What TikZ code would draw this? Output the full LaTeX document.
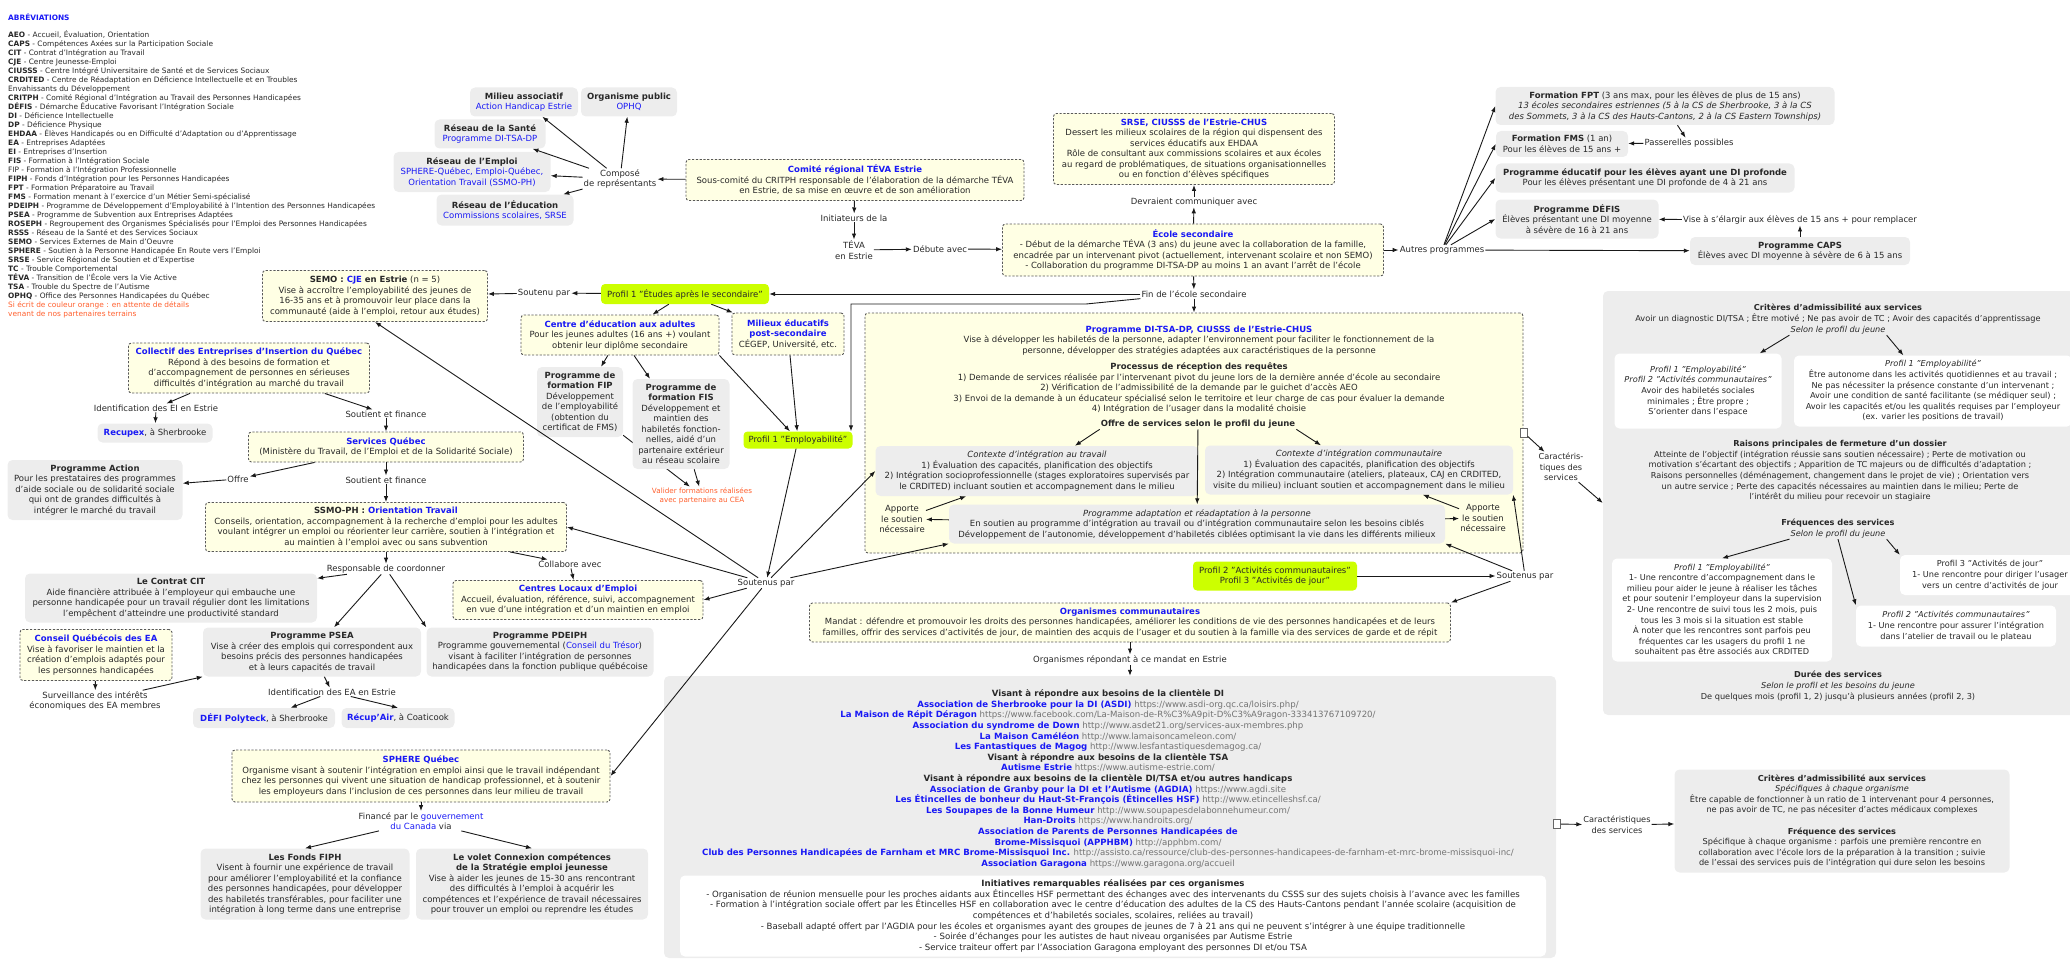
\documentclass[tikz,border=0pt]{standalone}
\usepackage{fontspec}
\setmainfont{DejaVu Sans}
\usepackage{tikz}
\usetikzlibrary{arrows.meta}

\definecolor{bleulien}{RGB}{25,25,245}
\definecolor{fondjaune}{RGB}{255,255,228}
\definecolor{fondgris}{RGB}{237,237,237}
\definecolor{vertprofil}{RGB}{204,255,0}
\definecolor{orangeattente}{RGB}{255,95,45}
\definecolor{grisurl}{RGB}{115,115,115}
\definecolor{texte}{RGB}{40,40,40}

\newcommand{\titrebleu}[1]{\textbf{\textcolor{bleulien}{#1}}}
\newcommand{\orgurl}[2]{\titrebleu{#1} \textcolor{grisurl}{#2}}

\begin{document}
\begin{tikzpicture}[
    x=1pt, y=-1pt,
    >={Latex[length=6pt, width=4.5pt]},
    every node/.style={text=texte},
    txt/.style={font=\fontsize{8.5}{10.5}\selectfont, align=center, inner sep=1pt},
    petit/.style={font=\fontsize{8.2}{10.6}\selectfont},
    listefont/.style={font=\fontsize{8.6}{10.6}\selectfont},
    concept/.style={txt, fill=fondjaune, draw=black!65, line width=0.9pt, dash pattern=on 2.2pt off 1.6pt, rounded corners=3pt},
    gris/.style={txt, fill=fondgris, rounded corners=5pt},
    blanc/.style={txt, fill=white, rounded corners=5pt},
    profil/.style={txt, fill=vertprofil, rounded corners=4pt},
    lien/.style={txt},
    fleche/.style={->, line width=0.9pt, draw=black!90},
    abrev/.style={font=\fontsize{7.4}{9}\selectfont, align=left, inner sep=0pt},
    icone/.style={draw=black!60, fill=white, line width=0.5pt, minimum width=7pt, minimum height=9pt, inner sep=0pt}
  ]

  \useasboundingbox (0,0) rectangle (2070,963);

  % Abreviations
  \node[abrev, anchor=west, font=\fontsize{7.4}{9}\selectfont\bfseries, text=bleulien] (abrev-titre) at (8,17) {ABRÉVIATIONS};
  \node[abrev, anchor=north west] (abrev-liste) at (8,30.5) {%
    \textbf{AEO} - Accueil, Évaluation, Orientation\\
    \textbf{CAPS} - Compétences Axées sur la Participation Sociale\\
    \textbf{CIT} - Contrat d'Intégration au Travail\\
    \textbf{CJE} - Centre Jeunesse-Emploi\\
    \textbf{CIUSSS} - Centre Intégré Universitaire de Santé et de Services Sociaux\\
    \textbf{CRDITED} - Centre de Réadaptation en Déficience Intellectuelle et en Troubles\\
    Envahissants du Développement\\
    \textbf{CRITPH} - Comité Régional d'Intégration au Travail des Personnes Handicapées\\
    \textbf{DÉFIS} - Démarche Éducative Favorisant l'Intégration Sociale\\
    \textbf{DI} - Déficience Intellectuelle\\
    \textbf{DP} - Déficience Physique\\
    \textbf{EHDAA} - Élèves Handicapés ou en Difficulté d'Adaptation ou d'Apprentissage\\
    \textbf{EA} - Entreprises Adaptées\\
    \textbf{EI} - Entreprises d'Insertion\\
    \textbf{FIS} - Formation à l'Intégration Sociale\\
    FIP - Formation à l'Intégration Professionnelle\\
    \textbf{FIPH} - Fonds d'Intégration pour les Personnes Handicapées\\
    \textbf{FPT} - Formation Préparatoire au Travail\\
    \textbf{FMS} - Formation menant à l'exercice d'un Métier Semi-spécialisé\\
    \textbf{PDEIPH} - Programme de Développement d'Employabilité à l'Intention des Personnes Handicapées\\
    \textbf{PSEA} - Programme de Subvention aux Entreprises Adaptées\\
    \textbf{ROSEPH} - Regroupement des Organismes Spécialisés pour l'Emploi des Personnes Handicapées\\
    \textbf{RSSS} - Réseau de la Santé et des Services Sociaux\\
    \textbf{SEMO} - Services Externes de Main d'Oeuvre\\
    \textbf{SPHERE} - Soutien à la Personne Handicapée En Route vers l'Emploi\\
    \textbf{SRSE} - Service Régional de Soutien et d'Expertise\\
    \textbf{TC} - Trouble Comportemental\\
    \textbf{TÉVA} - Transition de l'École vers la Vie Active\\
    \textbf{TSA} - Trouble du Spectre de l'Autisme\\
    \textbf{OPHQ} - Office des Personnes Handicapées du Québec\\
    \textcolor{orangeattente}{Si écrit de couleur orange : en attente de détails}\\
    \textcolor{orangeattente}{venant de nos partenaires terrains}};

  % Comite regional et representants
  \node[gris, minimum width=108pt, minimum height=29pt] (milieu) at (524,102) {\textbf{Milieu associatif}\\\textcolor{bleulien}{Action Handicap Estrie}};
  \node[gris, minimum width=96pt, minimum height=29pt] (public) at (629,102) {\textbf{Organisme public}\\\textcolor{bleulien}{OPHQ}};
  \node[gris, minimum width=111pt, minimum height=29pt] (sante) at (490,134) {\textbf{Réseau de la Santé}\\\textcolor{bleulien}{Programme DI-TSA-DP}};
  \node[gris, minimum width=157pt, minimum height=40pt] (emploi) at (472,172) {\textbf{Réseau de l'Emploi}\\\textcolor{bleulien}{SPHERE-Québec, Emploi-Québec,}\\\textcolor{bleulien}{Orientation Travail (SSMO-PH)}};
  \node[gris, minimum width=137pt, minimum height=31pt] (education) at (505,210) {\textbf{Réseau de l'Éducation}\\\textcolor{bleulien}{Commissions scolaires, SRSE}};
  \node[lien] (compose) at (620,179) {Composé\\de représentants};
  \node[concept, minimum width=338pt, minimum height=41pt] (comite) at (855,180) {\titrebleu{Comité régional TÉVA Estrie}\\Sous-comité du CRITPH responsable de l'élaboration de la démarche TÉVA\\en Estrie, de sa mise en œuvre et de son amélioration};
  \node[lien] (initiateurs) at (854,218) {Initiateurs de la};
  \node[lien] (teva) at (854,250) {TÉVA\\en Estrie};
  \node[lien] (debute) at (940,249) {Débute avec};

  % Ecole secondaire
  \node[concept, minimum width=381pt, minimum height=52pt] (ecole) at (1193,250) {\titrebleu{École secondaire}\\- Début de la démarche TÉVA (3 ans) du jeune avec la collaboration de la famille,\\encadrée par un intervenant pivot (actuellement, intervenant scolaire et non SEMO)\\- Collaboration du programme DI-TSA-DP au moins 1 an avant l'arrêt de l'école};
  \node[lien] (devraient) at (1194,202) {Devraient communiquer avec};
  \node[concept, minimum width=281pt, minimum height=71pt] (srse) at (1194,149) {\titrebleu{SRSE, CIUSSS de l'Estrie-CHUS}\\Dessert les milieux scolaires de la région qui dispensent des\\services éducatifs aux EHDAA\\Rôle de consultant aux commissions scolaires et aux écoles\\au regard de problématiques, de situations organisationnelles\\ou en fonction d'élèves spécifiques};
  \node[lien] (autres) at (1442,250) {Autres programmes};
  \node[lien] (fin) at (1194,294) {Fin de l'école secondaire};

  % Autres programmes
  \node[gris, minimum width=339pt, minimum height=38pt] (fpt) at (1665,106) {\textbf{Formation FPT} (3 ans max, pour les élèves de plus de 15 ans)\\\textit{13 écoles secondaires estriennes (5 à la CS de Sherbrooke, 3 à la CS}\\\textit{des Sommets, 3 à la CS des Hauts-Cantons, 2 à la CS Eastern Townships)}};
  \node[gris, minimum width=132pt, minimum height=26pt] (fms) at (1562,144) {\textbf{Formation FMS} (1 an)\\Pour les élèves de 15 ans +};
  \node[lien] (passerelles) at (1689,143) {Passerelles possibles};
  \node[gris, minimum width=299pt, minimum height=29pt] (educatif) at (1645,178) {\textbf{Programme éducatif pour les élèves ayant une DI profonde}\\Pour les élèves présentant une DI profonde de 4 à 21 ans};
  \node[gris, minimum width=163pt, minimum height=39pt] (defis) at (1577,219) {\textbf{Programme DÉFIS}\\Élèves présentant une DI moyenne\\à sévère de 16 à 21 ans};
  \node[lien] (vise) at (1800,220) {Vise à s'élargir aux élèves de 15 ans + pour remplacer};
  \node[gris, minimum width=220pt, minimum height=28pt] (caps) at (1800,251) {\textbf{Programme CAPS}\\Élèves avec DI moyenne à sévère de 6 à 15 ans};

  % Caracteristiques des services DI-TSA-DP
  \node[gris, minimum width=478pt, minimum height=424pt] (criteres) at (1842,503) {};
  \node[txt, petit] (crit-titre) at (1838,313.5) {\textbf{Critères d'admissibilité aux services}\\Avoir un diagnostic DI/TSA ; Être motivé ; Ne pas avoir de TC ; Avoir des capacités d'apprentissage};
  \node[txt, petit] (selon-1) at (1838,330) {\textit{Selon le profil du jeune}};
  \node[blanc, petit, minimum width=167pt, minimum height=75pt] (profil-a) at (1698,391) {\textit{Profil 1 "Employabilité"}\\\textit{Profil 2 "Activités communautaires"}\\Avoir des habiletés sociales\\minimales ; Être propre ;\\S'orienter dans l'espace};
  \node[blanc, petit, minimum width=278pt, minimum height=71pt] (profil-b) at (1933,391) {\textit{Profil 1 "Employabilité"}\\Être autonome dans les activités quotidiennes et au travail ;\\Ne pas nécessiter la présence constante d'un intervenant ;\\Avoir une condition de santé facilitante (se médiquer seul) ;\\Avoir les capacités et/ou les qualités requises par l'employeur\\(ex. varier les positions de travail)};
  \node[txt, petit] (raisons) at (1840,471) {\textbf{Raisons principales de fermeture d'un dossier}\\Atteinte de l'objectif (intégration réussie sans soutien nécessaire) ; Perte de motivation ou\\motivation s'écartant des objectifs ; Apparition de TC majeurs ou de difficultés d'adaptation ;\\Raisons personnelles (déménagement, changement dans le projet de vie) ; Orientation vers\\un autre service ; Perte des capacités nécessaires au maintien dans le milieu; Perte de\\l'intérêt du milieu pour recevoir un stagiaire};
  \node[txt, petit] (frequences) at (1838,523) {\textbf{Fréquences des services}};
  \node[txt, petit] (selon-2) at (1838,534) {\textit{Selon le profil du jeune}};
  \node[blanc, petit, minimum width=220pt, minimum height=103pt] (freq-1) at (1722,610) {\textit{Profil 1 "Employabilité"}\\1- Une rencontre d'accompagnement dans le\\milieu pour aider le jeune à réaliser les tâches\\et pour soutenir l'employeur dans la supervision\\2- Une rencontre de suivi tous les 2 mois, puis\\tous les 3 mois si la situation est stable\\À noter que les rencontres sont parfois peu\\fréquentes car les usagers du profil 1 ne\\souhaitent pas être associés aux CRDITED};
  \node[blanc, petit, minimum width=180pt, minimum height=40pt] (freq-3) at (1990,575) {Profil 3 "Activités de jour"\\1- Une rencontre pour diriger l'usager\\vers un centre d'activités de jour};
  \node[blanc, petit, minimum width=200pt, minimum height=41pt] (freq-2) at (1956,626) {\textit{Profil 2 "Activités communautaires"}\\1- Une rencontre pour assurer l'intégration\\dans l'atelier de travail ou le plateau};
  \node[txt, petit] (duree) at (1838,686) {\textbf{Durée des services}\\\textit{Selon le profil et les besoins du jeune}\\De quelques mois (profil 1, 2) jusqu'à plusieurs années (profil 2, 3)};
  \node[lien, petit] (caract-dit) at (1561,467) {Caractéris-\\tiques des\\services};

  % Programme DI-TSA-DP
  \node[concept, minimum width=658pt, minimum height=240pt] (dittsadp) at (1194,433) {};
  \node[icone] (icone-dit) at (1524,433) {};
  \node[txt] (dit-texte) at (1199,340.5) {\titrebleu{Programme DI-TSA-DP, CIUSSS de l'Estrie-CHUS}\\Vise à développer les habiletés de la personne, adapter l'environnement pour faciliter le fonctionnement de la\\personne, développer des stratégies adaptées aux caractéristiques de la personne};
  \node[txt] (processus) at (1199,388) {\textbf{Processus de réception des requêtes}\\1) Demande de services réalisée par l'intervenant pivot du jeune lors de la dernière année d'école au secondaire\\2) Vérification de l'admissibilité de la demande par le guichet d'accès AEO\\3) Envoi de la demande à un éducateur spécialisé selon le territoire et leur charge de cas pour évaluer la demande\\4) Intégration de l'usager dans la modalité choisie};
  \node[txt] (offre) at (1198,424) {\textbf{Offre de services selon le profil du jeune}};
  \node[gris, minimum width=323pt, minimum height=50pt] (travail) at (1037,471) {\textit{Contexte d'intégration au travail}\\1) Évaluation des capacités, planification des objectifs\\2) Intégration socioprofessionnelle (stages exploratoires supervisés par\\le CRDITED) incluant soutien et accompagnement dans le milieu};
  \node[gris, minimum width=308pt, minimum height=49pt] (communautaire) at (1359,470) {\textit{Contexte d'intégration communautaire}\\1) Évaluation des capacités, planification des objectifs\\2) Intégration communautaire (ateliers, plateaux, CAJ en CRDITED,\\visite du milieu) incluant soutien et accompagnement dans le milieu};
  \node[gris, minimum width=496pt, minimum height=39pt] (adaptation) at (1197,524) {\textit{Programme adaptation et réadaptation à la personne}\\En soutien au programme d'intégration au travail ou d'intégration communautaire selon les besoins ciblés\\Développement de l'autonomie, développement d'habiletés ciblées optimisant la vie dans les différents milieux};
  \node[lien] (apporte-1) at (902,519) {Apporte\\le soutien\\nécessaire};
  \node[lien] (apporte-2) at (1483,518) {Apporte\\le soutien\\nécessaire};

  % Profils et milieux educatifs
  \node[profil, minimum width=168pt, minimum height=20pt] (etudes) at (685,294) {Profil 1 "Études après le secondaire"};
  \node[lien] (soutenu) at (544,293) {Soutenu par};
  \node[concept, minimum width=225pt, minimum height=51pt] (semo) at (375,296) {\textbf{SEMO : \textcolor{bleulien}{CJE} en Estrie} (n = 5)\\Vise à accroître l'employabilité des jeunes de\\16-35 ans et à promouvoir leur place dans la\\communauté (aide à l'emploi, retour aux études)};
  \node[concept, minimum width=198pt, minimum height=40pt] (centre) at (620,335) {\titrebleu{Centre d'éducation aux adultes}\\Pour les jeunes adultes (16 ans +) voulant\\obtenir leur diplôme secondaire};
  \node[concept, minimum width=112pt, minimum height=42pt] (milieux) at (788,334) {\titrebleu{Milieux éducatifs}\\\titrebleu{post-secondaire}\\CÉGEP, Université, etc.};
  \node[gris, minimum width=86pt, minimum height=70pt] (fip) at (580,402) {\textbf{Programme de}\\\textbf{formation FIP}\\Développement\\de l'employabilité\\(obtention du\\certificat de FMS)};
  \node[txt, font=\fontsize{7.2}{9}\selectfont, text=orangeattente] (valider) at (702,496) {Valider formations réalisées\\avec partenaire au CEA};
  \draw[fleche] (fip) -- (valider);
  \node[gris, minimum width=97pt, minimum height=90pt] (fis) at (681,424) {\textbf{Programme de}\\\textbf{formation FIS}\\Développement et\\maintien des\\habiletés fonction-\\nelles, aidé d'un\\partenaire extérieur\\au réseau scolaire};
  \node[profil, minimum width=109pt, minimum height=17pt] (employ) at (798,440) {Profil 1 "Employabilité"};
  \node[lien] (soutenus) at (766,583) {Soutenus par};
  \node[profil, minimum width=164pt, minimum height=29pt] (profil23) at (1275,576) {Profil 2 "Activités communautaires"\\Profil 3 "Activités de jour"};
  \node[lien] (soutenus-2) at (1525,576) {Soutenus par};

  % Organismes communautaires
  \node[concept, minimum width=641pt, minimum height=39pt] (organismes) at (1130,622.5) {\titrebleu{Organismes communautaires}\\Mandat : défendre et promouvoir les droits des personnes handicapées, améliorer les conditions de vie des personnes handicapées et de leurs\\familles, offrir des services d'activités de jour, de maintien des acquis de l'usager et du soutien à la famille via des services de garde et de répit};
  \node[lien] (repondant) at (1130,660) {Organismes répondant à ce mandat en Estrie};
  \node[gris, minimum width=892pt, minimum height=282pt] (liste) at (1110,817) {};
  \node[txt, listefont] (liste-texte) at (1108,779) {%
    \textbf{Visant à répondre aux besoins de la clientèle DI}\\
    \orgurl{Association de Sherbrooke pour la DI (ASDI)}{https://www.asdi-org.qc.ca/loisirs.php/}\\
    \orgurl{La Maison de Répit Déragon}{https://www.facebook.com/La-Maison-de-R\%C3\%A9pit-D\%C3\%A9ragon-333413767109720/}\\
    \orgurl{Association du syndrome de Down}{http://www.asdet21.org/services-aux-membres.php}\\
    \orgurl{La Maison Caméléon}{http://www.lamaisoncameleon.com/}\\
    \orgurl{Les Fantastiques de Magog}{http://www.lesfantastiquesdemagog.ca/}\\
    \textbf{Visant à répondre aux besoins de la clientèle TSA}\\
    \orgurl{Autisme Estrie}{https://www.autisme-estrie.com/}\\
    \textbf{Visant à répondre aux besoins de la clientèle DI/TSA et/ou autres handicaps}\\
    \orgurl{Association de Granby pour la DI et l'Autisme (AGDIA)}{https://www.agdi.site}\\
    \orgurl{Les Étincelles de bonheur du Haut-St-François (Étincelles HSF)}{http://www.etincelleshsf.ca/}\\
    \orgurl{Les Soupapes de la Bonne Humeur}{http://www.soupapesdelabonnehumeur.com/}\\
    \orgurl{Han-Droits}{https://www.handroits.org/}\\
    \titrebleu{Association de Parents de Personnes Handicapées de}\\
    \orgurl{Brome-Missisquoi (APPHBM)}{http://apphbm.com/}\\
    \orgurl{Club des Personnes Handicapées de Farnham et MRC Brome-Missisquoi Inc.}{http://assisto.ca/ressource/club-des-personnes-handicapees-de-farnham-et-mrc-brome-missisquoi-inc/}\\
    \orgurl{Association Garagona}{https://www.garagona.org/accueil}};
  \node[blanc, listefont, minimum width=866pt, minimum height=81pt] (initiatives) at (1113,916) {%
    \textbf{Initiatives remarquables réalisées par ces organismes}\\
    - Organisation de réunion mensuelle pour les proches aidants aux Étincelles HSF permettant des échanges avec des intervenants du CSSS sur des sujets choisis à l'avance avec les familles\\
    - Formation à l'intégration sociale offert par les Étincelles HSF en collaboration avec le centre d'éducation des adultes de la CS des Hauts-Cantons pendant l'année scolaire (acquisition de\\
    compétences et d'habiletés sociales, scolaires, reliées au travail)\\
    - Baseball adapté offert par l'AGDIA pour les écoles et organismes ayant des groupes de jeunes de 7 à 21 ans qui ne peuvent s'intégrer à une équipe traditionnelle\\
    - Soirée d'échanges pour les autistes de haut niveau organisées par Autisme Estrie\\
    - Service traiteur offert par l'Association Garagona employant des personnes DI et/ou TSA};
  \node[icone] (icone-liste) at (1557,824) {};
  \node[lien, petit] (caract-liste) at (1617,825) {Caractéristiques\\des services};
  \node[gris, petit, minimum width=335pt, minimum height=103pt] (criteres-org) at (1842,821) {\textbf{Critères d'admissibilité aux services}\\\textit{Spécifiques à chaque organisme}\\Être capable de fonctionner à un ratio de 1 intervenant pour 4 personnes,\\ne pas avoir de TC, ne pas nécesiter d'actes médicaux complexes\\[10.6pt]\textbf{Fréquence des services}\\Spécifique à chaque organisme : parfois une première rencontre en\\collaboration avec l'école lors de la préparation à la transition ; suivie\\de l'essai des services puis de l'intégration qui dure selon les besoins};

  % Services d'emploi (gauche)
  \node[concept, minimum width=241pt, minimum height=50pt] (collectif) at (249,368) {\titrebleu{Collectif des Entreprises d'Insertion du Québec}\\Répond à des besoins de formation et\\d'accompagnement de personnes en sérieuses\\difficultés d'intégration au marché du travail};
  \node[lien] (ident-ei) at (156,408) {Identification des EI en Estrie};
  \node[gris, minimum width=115pt, minimum height=19pt] (recupex) at (155,433) {\titrebleu{Recupex}, à Sherbrooke};
  \node[lien] (soutient-1) at (386,414) {Soutient et finance};
  \node[concept, minimum width=275pt, minimum height=30pt] (services-qc) at (386,447) {\titrebleu{Services Québec}\\(Ministère du Travail, de l'Emploi et de la Solidarité Sociale)};
  \node[lien] (offre-action) at (238,479) {Offre};
  \node[gris, minimum width=175pt, minimum height=60pt] (action) at (95,490) {\textbf{Programme Action}\\Pour les prestataires des programmes\\d'aide sociale ou de solidarité sociale\\qui ont de grandes difficultés à\\intégrer le marché du travail};
  \node[lien] (soutient-2) at (386,480) {Soutient et finance};
  \node[concept, minimum width=361pt, minimum height=49pt] (ssmo) at (386,527) {\textbf{SSMO-PH : \textcolor{bleulien}{Orientation Travail}}\\Conseils, orientation, accompagnement à la recherche d'emploi pour les adultes\\voulant intégrer un emploi ou réorienter leur carrière, soutien à l'intégration et\\au maintien à l'emploi avec ou sans subvention};
  \node[lien] (collabore) at (570,564) {Collabore avec};
  \node[concept, minimum width=250pt, minimum height=39pt] (cle) at (578,600) {\titrebleu{Centres Locaux d'Emploi}\\Accueil, évaluation, référence, suivi, accompagnement\\en vue d'une intégration et d'un maintien en emploi};
  \node[lien] (responsable) at (386,569) {Responsable de coordonner};
  \node[gris, minimum width=292pt, minimum height=49pt] (cit) at (171,598) {\textbf{Le Contrat CIT}\\Aide financière attribuée à l'employeur qui embauche une\\personne handicapée pour un travail régulier dont les limitations\\l'empêchent d'atteindre une productivité standard};
  \node[concept, minimum width=152pt, minimum height=51pt] (conseil) at (96,655) {\titrebleu{Conseil Québécois des EA}\\Vise à favoriser le maintien et la\\création d'emplois adaptés pour\\les personnes handicapées};
  \node[lien] (surveillance) at (95,701) {Surveillance des intérêts\\économiques des EA membres};
  \node[gris, minimum width=218pt, minimum height=49pt] (psea) at (312,652) {\textbf{Programme PSEA}\\Vise à créer des emplois qui correspondent aux\\besoins précis des personnes handicapées\\et à leurs capacités de travail};
  \node[gris, minimum width=227pt, minimum height=49pt] (pdeiph) at (540,652) {\textbf{Programme PDEIPH}\\Programme gouvernemental (\textcolor{bleulien}{Conseil du Trésor})\\visant à faciliter l'intégration de personnes\\handicapées dans la fonction publique québécoise};
  \node[lien] (ident-ea) at (332,692) {Identification des EA en Estrie};
  \node[gris, minimum width=142pt, minimum height=20pt] (defi) at (264,718) {\titrebleu{DÉFI Polyteck}, à Sherbrooke};
  \node[gris, minimum width=113pt, minimum height=20pt] (recupair) at (398,718) {\titrebleu{Récup'Air}, à Coaticook};
  \node[concept, minimum width=378pt, minimum height=52pt] (sphere) at (421,776) {\titrebleu{SPHERE Québec}\\Organisme visant à soutenir l'intégration en emploi ainsi que le travail indépendant\\chez les personnes qui vivent une situation de handicap professionnel, et à soutenir\\les employeurs dans l'inclusion de ces personnes dans leur milieu de travail};
  \node[lien] (finance) at (421,821) {Financé par le \textcolor{bleulien}{gouvernement}\\\textcolor{bleulien}{du Canada} via};
  \node[gris, minimum width=209pt, minimum height=71pt] (fiph) at (305,884) {\textbf{Les Fonds FIPH}\\Visent à fournir une expérience de travail\\pour améliorer l'employabilité et la confiance\\des personnes handicapées, pour développer\\des habiletés transférables, pour faciliter une\\intégration à long terme dans une entreprise};
  \node[gris, minimum width=232pt, minimum height=71pt] (connexion) at (532,884) {\textbf{Le volet Connexion compétences}\\\textbf{de la Stratégie emploi jeunesse}\\Vise à aider les jeunes de 15-30 ans rencontrant\\des difficultés à l'emploi à acquérir les\\compétences et l'expérience de travail nécessaires\\pour trouver un emploi ou reprendre les études};

  \coordinate (coude-1) at (1086,304);
  \coordinate (coude-2) at (851,304);

  % Connexions du comite et de l'ecole
  \draw[fleche] (comite) -- (compose);
  \foreach \cible in {milieu,public,sante,emploi,education}
    \draw[fleche] (compose) -- (\cible);
  \draw[fleche] (comite) -- (initiateurs);
  \draw[fleche] (initiateurs) -- (teva);
  \draw[fleche] (teva) -- (debute);
  \draw[fleche] (debute) -- (ecole);
  \draw[fleche] (ecole) -- (devraient);
  \draw[fleche] (devraient) -- (srse);
  \draw[fleche] (ecole) -- (autres);
  \foreach \cible in {fpt,fms,educatif,defis}
    \draw[fleche] (autres) -- (\cible.west);
  \draw[fleche] (autres) -- (caps);
  \draw[fleche] (fpt) -- (passerelles);
  \draw[fleche] (passerelles) -- (fms);
  \draw[fleche] (caps) -- (vise);
  \draw[fleche] (vise) -- (defis);
  \draw[fleche] (ecole) -- (fin);
  \draw[fleche] (fin) -- (dittsadp);
  \draw[fleche] (fin) -- (etudes);
  \draw[fleche] (fin.south west) -- (coude-1) -- (coude-2) -- (coude-2 |- employ.north);

  % Connexions des profils
  \draw[fleche] (etudes) -- (soutenu);
  \draw[fleche] (soutenu) -- (semo);
  \draw[fleche] (etudes) -- (centre);
  \draw[fleche] (etudes) -- (milieux);
  \draw[fleche] (centre) -- (fip);
  \draw[fleche] (centre) -- (fis);
  \draw[fleche] (fis) -- (valider);
  \draw[fleche] (centre.south east) -- (employ);
  \draw[fleche] (milieux) -- (employ);
  \draw[fleche] (employ) -- (soutenus);
  \foreach \cible in {semo.south, ssmo.east, cle.east, sphere.east, travail.west, adaptation.south west}
    \draw[fleche] (soutenus) -- (\cible);
  \draw[fleche] (profil23) -- (soutenus-2);
  \foreach \cible in {communautaire.south east, adaptation.south east, organismes.north east}
    \draw[fleche] (soutenus-2) -- (\cible);

  % Connexions DI-TSA-DP
  \draw[fleche] (offre.south west) -- (travail);
  \draw[fleche] (offre) -- (adaptation);
  \draw[fleche] (offre.south east) -- (communautaire);
  \draw[fleche] (adaptation) -- (apporte-1);
  \draw[fleche] (apporte-1) -- (travail);
  \draw[fleche] (adaptation) -- (apporte-2);
  \draw[fleche] (apporte-2) -- (communautaire);
  \draw[fleche] (icone-dit) -- (caract-dit);
  \draw[fleche] (caract-dit) -- (criteres.west);
  \draw[fleche] (selon-1.south west) -- (profil-a);
  \draw[fleche] (selon-1.south east) -- (profil-b);
  \draw[fleche] (selon-2.south west) -- (freq-1.north);
  \draw[fleche] (selon-2.south) -- (freq-2.north west);
  \draw[fleche] (selon-2.south east) -- (freq-3.north west);

  % Connexions des organismes
  \draw[fleche] (organismes) -- (repondant);
  \draw[fleche] (repondant) -- (repondant |- liste.north);
  \draw[fleche] (icone-liste) -- (caract-liste);
  \draw[fleche] (caract-liste) -- (criteres-org);

  % Connexions emploi
  \draw[fleche] (collectif) -- (ident-ei);
  \draw[fleche] (ident-ei) -- (recupex);
  \draw[fleche] (collectif) -- (soutient-1);
  \draw[fleche] (soutient-1) -- (services-qc);
  \draw[fleche] (services-qc) -- (offre-action);
  \draw[fleche] (offre-action) -- (action);
  \draw[fleche] (services-qc) -- (soutient-2);
  \draw[fleche] (soutient-2) -- (ssmo);
  \draw[fleche] (ssmo) -- (collabore);
  \draw[fleche] (collabore) -- (cle);
  \draw[fleche] (ssmo) -- (responsable);
  \draw[fleche] (responsable) -- (cit);
  \draw[fleche] (responsable) -- (psea);
  \draw[fleche] (responsable) -- (pdeiph.north west);
  \draw[fleche] (conseil) -- (surveillance);
  \draw[fleche] (surveillance) -- (psea.south west);
  \draw[fleche] (psea) -- (ident-ea);
  \draw[fleche] (ident-ea) -- (defi);
  \draw[fleche] (ident-ea) -- (recupair.north);
  \draw[fleche] (sphere) -- (finance);
  \draw[fleche] (finance) -- (fiph.north);
  \draw[fleche] (finance) -- (connexion.north);

\end{tikzpicture}
\end{document}
